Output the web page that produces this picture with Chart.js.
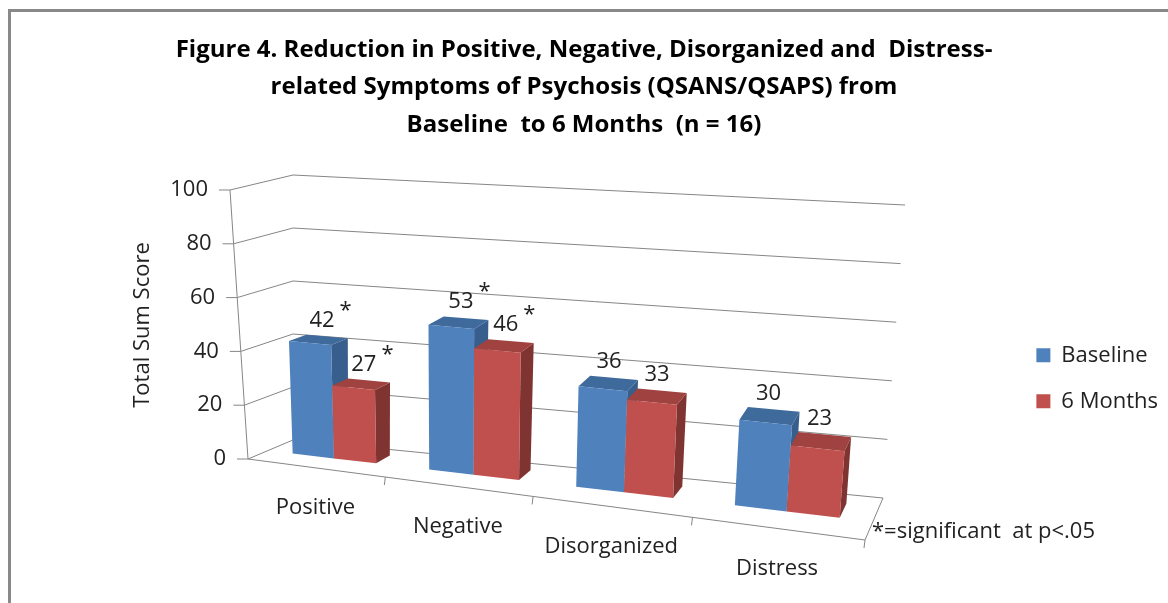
<!DOCTYPE html>
<html>
<head>
<meta charset="utf-8">
<title>Figure 4</title>
<script src="https://cdn.jsdelivr.net/npm/chart.js@4.4.0/dist/chart.umd.min.js"></script>
<style>
    html, body { margin: 0; padding: 0; background: #fff; }
    #wrap { width: 1168px; height: 603px; }
</style>
</head>
<body>
<div id="wrap"><canvas id="fig4Chart" width="1168" height="603"></canvas></div>
<script>
// ==================== DATA ====================
const categories = ['Positive', 'Negative', 'Disorganized', 'Distress'];
const baselineScores = [42, 53, 36, 30];
const sixMonthScores = [27, 46, 33, 23];
const baselineSig = [true, true, false, false];
const sixMonthSig = [true, true, false, false];
const yTicks = [0, 20, 40, 60, 80, 100];

// ==================== 3D BOX GEOMETRY ====================
// corners of front and back planes (l/r = left/right, 0/1 = bottom/top of value axis)
const FRONT = { l0: [248, 459], l1: [230, 190], r0: [865, 540], r1: [888, 252] };
const BACK  = { l0: [293, 440], l1: [293, 175], r0: [883, 498], r1: [905, 205] };
const FORESHORTEN = 0.859;
const BAR_Z0 = 0.44, BAR_Z1 = 0.78;
const FONT = "'Open Sans'";

function persp(t){ return FORESHORTEN * t / (1 + (FORESHORTEN - 1) * t); }
function lerp(a, b, t){ return [a[0] + (b[0] - a[0]) * t, a[1] + (b[1] - a[1]) * t]; }
function onPlane(p, fx, fy){
    let bot = lerp(p.l0, p.r0, fx);
    let top = lerp(p.l1, p.r1, fx);
    return lerp(bot, top, fy);
}
// x: 0..1 across categories, y: 0..1 of value axis, z: 0 front .. 1 back
function project(x, y, z){
    let fx = persp(x);
    return lerp(onPlane(FRONT, fx, y), onPlane(BACK, fx, y), z);
}

function line(ctx, a, b){
    ctx.beginPath();
    ctx.moveTo(a[0], a[1]);
    ctx.lineTo(b[0], b[1]);
    ctx.stroke();
}
function face(ctx, pts, color){
    ctx.beginPath();
    ctx.moveTo(pts[0][0], pts[0][1]);
    for (let i = 1; i < pts.length; i++) ctx.lineTo(pts[i][0], pts[i][1]);
    ctx.closePath();
    ctx.fillStyle = color;
    ctx.fill();
}

const faceColors = [
    { front: '#4F81BD', top: '#3F6A9C', side: '#375E8C' },
    { front: '#C0504D', top: '#A04240', side: '#7F3432' }
];

const box3d = {
    id: 'box3d',
    beforeDraw(chart){
        let ctx = chart.ctx;
        ctx.save();
        ctx.fillStyle = '#fff';
        ctx.fillRect(0, 0, chart.width, chart.height);
        ctx.strokeStyle = '#898989';
        ctx.lineWidth = 3;
        ctx.beginPath();
        ctx.moveTo(9.5, chart.height);
        ctx.lineTo(9.5, 10.5);
        ctx.lineTo(chart.width, 10.5);
        ctx.stroke();
        ctx.restore();
    },
    beforeDatasetsDraw(chart){
        let ctx = chart.ctx;
        let area = chart.chartArea;
        let yScale = chart.scales.y;
        let fx = px => (px - area.left) / area.width;
        let fy = py => (area.bottom - py) / area.height;

        ctx.save();
        ctx.strokeStyle = '#868686';
        ctx.lineWidth = 1;

        // back wall + left wall gridlines
        yTicks.forEach(v => {
            let t = fy(yScale.getPixelForValue(v));
            line(ctx, project(0, t, 1), project(1, t, 1));
            line(ctx, project(0, t, 0), project(0, t, 1));
            let p = project(0, t, 0);
            line(ctx, [p[0] - 11, p[1]], p);
        });
        // value axis front edge
        line(ctx, project(0, 0, 0), project(0, 1, 0));
        // floor front and right edges
        line(ctx, project(0, 0, 0), project(1, 0, 0));
        line(ctx, project(1, 0, 0), project(1, 0, 1));
        // category ticks
        for (let i = 1; i <= categories.length; i++){
            let p = project(i / categories.length, 0, 0);
            line(ctx, p, [p[0] - 1, p[1] + 8]);
        }

        // value tick labels
        ctx.fillStyle = '#222';
        ctx.font = '22px ' + FONT;
        ctx.textAlign = 'right';
        ctx.textBaseline = 'middle';
        yTicks.forEach(v => {
            let p = project(0, fy(yScale.getPixelForValue(v)), 0);
            ctx.fillText(String(v), p[0] - 22, p[1]);
        });

        // category labels
        ctx.textAlign = 'center';
        categories.forEach((c, i) => {
            let p = project((i + 0.5) / categories.length, 0, 0);
            ctx.fillText(c, p[0], p[1] + 40);
        });

        // axis title
        ctx.save();
        ctx.translate(143, 325);
        ctx.rotate(-Math.PI / 2);
        ctx.fillText('Total Sum Score', 0, 0);
        ctx.restore();

        // footnote
        ctx.textAlign = 'left';
        ctx.fillText('*=significant  at p<.05', 872, 532);

        // bars, left to right
        let sigs = [baselineSig, sixMonthSig];
        let labelQueue = [];
        categories.forEach((c, i) => {
            chart.data.datasets.forEach((ds, di) => {
                let el = chart.getDatasetMeta(di).data[i];
                let x0 = fx(el.x - el.width / 2), x1 = fx(el.x + el.width / 2);
                let y0 = fy(el.base), y1 = fy(el.y);
                let col = faceColors[di];
                face(ctx, [project(x1, y0, BAR_Z0), project(x1, y1, BAR_Z0), project(x1, y1, BAR_Z1), project(x1, y0, BAR_Z1)], col.side);
                face(ctx, [project(x0, y1, BAR_Z0), project(x1, y1, BAR_Z0), project(x1, y1, BAR_Z1), project(x0, y1, BAR_Z1)], col.top);
                face(ctx, [project(x0, y0, BAR_Z0), project(x1, y0, BAR_Z0), project(x1, y1, BAR_Z0), project(x0, y1, BAR_Z0)], col.front);
                let top = project((x0 + x1) / 2, y1, BAR_Z1);
                labelQueue.push({ p: top, value: ds.data[i], sig: sigs[di][i] });
            });
        });

        // data labels
        ctx.fillStyle = '#222';
        ctx.textBaseline = 'middle';
        labelQueue.forEach(l => {
            let x = l.p[0] - 5, y = l.p[1] - 16;
            ctx.textAlign = 'center';
            ctx.fillText(String(l.value), x, y);
            if (l.sig){
                let w = ctx.measureText(String(l.value)).width;
                ctx.textAlign = 'left';
                ctx.fillText('*', x + w / 2 + 5, y - 10);
            }
        });

        ctx.restore();
        return false;
    }
};

let fig4Chart = new Chart(document.getElementById('fig4Chart'), {
    type: 'bar',
    data: {
        labels: categories,
        datasets: [
            { label: 'Baseline', data: baselineScores, backgroundColor: '#4F81BD', borderWidth: 0 },
            { label: '6 Months', data: sixMonthScores, backgroundColor: '#C0504D', borderWidth: 0 }
        ]
    },
    options: {
        responsive: false,
        animation: false,
        layout: { padding: { top: 0, right: 0, bottom: 0, left: 0 } },
        datasets: { bar: { categoryPercentage: 0.62, barPercentage: 1 } },
        scales: {
            x: { display: false },
            y: { display: false, min: 0, max: 100 }
        },
        plugins: {
            title: {
                display: true,
                text: [
                    'Figure 4. Reduction in Positive, Negative, Disorganized and  Distress-',
                    'related Symptoms of Psychosis (QSANS/QSAPS) from',
                    'Baseline  to 6 Months  (n = 16)'
                ],
                color: '#000',
                font: { family: FONT, size: 24, weight: 'bold', lineHeight: 1.5625 },
                padding: { top: 31, bottom: 10 }
            },
            legend: {
                position: 'right',
                fullSize: false,
                labels: {
                    boxWidth: 14,
                    boxHeight: 14,
                    padding: 24,
                    color: '#222',
                    font: { family: FONT, size: 22 }
                }
            },
            tooltip: { enabled: false }
        }
    },
    plugins: [box3d]
});
</script>
</body>
</html>
